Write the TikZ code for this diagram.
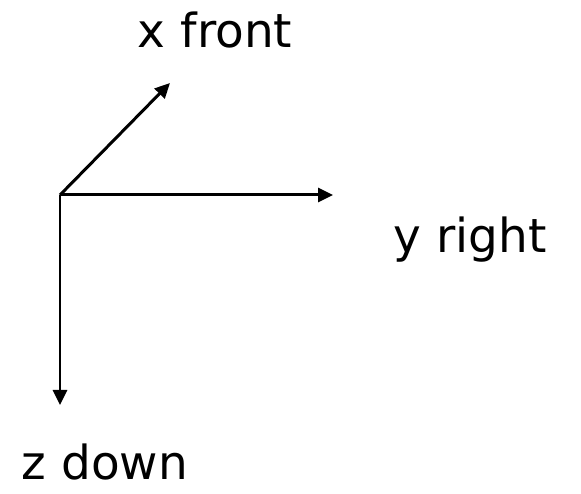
\documentclass[tikz,border=0pt]{standalone}
\usepackage{fontspec}
\setmainfont{DejaVu Sans}
\usepackage{tikz}
\usetikzlibrary{arrows.meta}

\begin{document}
\begin{tikzpicture}[
  >={Triangle[length=3.0mm, width=2.8mm]}, line width=1.7pt,
  axlabel/.style={font=\fontsize{26.7}{30}\selectfont, inner sep=0pt}]

  \useasboundingbox (0,0) rectangle (11.62,9.88);

  % origen y extremos de los ejes
  \coordinate (o)  at (1.2,5.98);
  \coordinate (xe) at (3.4,8.22);
  \coordinate (ye) at (6.66,5.98);
  \coordinate (ze) at (1.2,1.78);

  \draw[->] (o) -- (xe);
  \draw[->] (o) -- (ye);
  \draw[->] (o) -- (ze);

  % etiquetas
  \node[axlabel] (xl) at (4.3,9.28) {x front};
  \node[axlabel] (yl) at (9.4,5.08) {y right};
  \node[axlabel] (zl) at (2.1,0.64) {z down};
\end{tikzpicture}
\end{document}
